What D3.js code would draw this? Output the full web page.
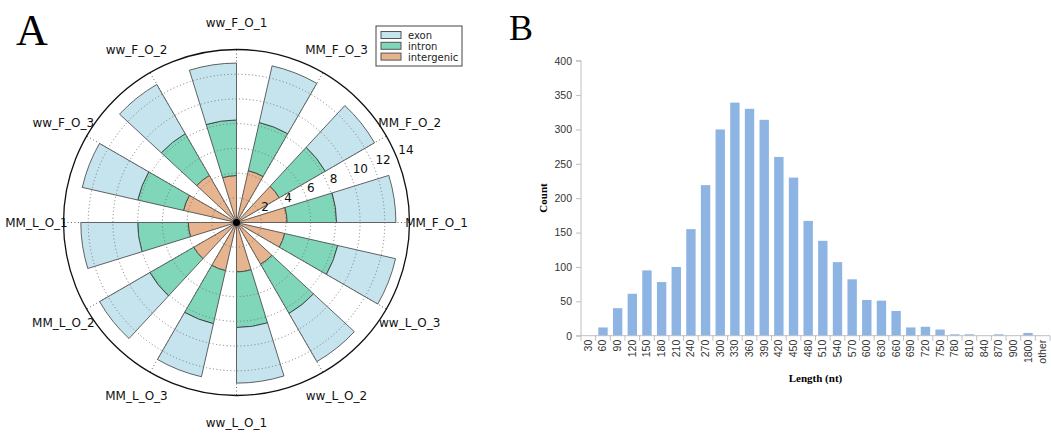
<!DOCTYPE html>
<html>
<head>
<meta charset="utf-8">
<script src="https://cdn.jsdelivr.net/npm/d3@7"></script>
<style>
  body { margin: 0; background: #fff; }
  svg { display: block; }
</style>
</head>
<body>
<div id="chart"></div>
<script>
// panel A data (radial stacked bars, angle order from 0 deg counter-clockwise)
var polarCategories = ["MM_F_O_1", "MM_F_O_2", "MM_F_O_3", "ww_F_O_1", "ww_F_O_2", "ww_F_O_3",
    "MM_L_O_1", "MM_L_O_2", "MM_L_O_3", "ww_L_O_1", "ww_L_O_2", "ww_L_O_3"];
var intergenic = [4.1, 4.0, 4.3, 3.8, 4.4, 4.4, 3.9, 4.0, 4.0, 4.0, 3.9, 4.0];
var intron = [4.0, 4.3, 4.0, 4.5, 3.9, 3.8, 4.1, 4.1, 4.4, 4.5, 4.6, 4.4];
var exon = [4.8, 4.6, 4.7, 4.6, 4.6, 4.6, 4.6, 4.7, 4.4, 4.5, 4.5, 4.8];
var radialTicks = [2, 4, 6, 8, 10, 12, 14];
var seriesNames = ["exon", "intron", "intergenic"];

// panel B data (length histogram)
var lengthCategories = ["30", "60", "90", "120", "150", "180", "210", "240", "270", "300", "330", "360",
    "390", "420", "450", "480", "510", "540", "570", "600", "630", "660", "690", "720", "750", "780",
    "810", "840", "870", "900", "1800", "other"];
var counts = [0, 12, 40, 61, 95, 78, 100, 155, 219, 300, 339, 330, 314, 260, 230, 167, 138, 107, 82,
    52, 51, 36, 12, 13, 9, 2, 2, 0, 2, 0, 4, 0];
var countTicks = [0, 50, 100, 150, 200, 250, 300, 350, 400];

var svgWidth = 1051;
var svgHeight = 434;

var svg = d3.select("#chart")
    .append("svg")
    .attr("width", svgWidth)
    .attr("height", svgHeight);

var colors = { exon: "#c6e4ee", intron: "#80d6b9", intergenic: "#e6b48e" };

// ---------- panel A ----------
var cx = 236.5, cy = 222.5, outerR = 173;
var barWidth = 0.3;

var rScale = d3.scaleLinear().domain([0, 14]).range([0, outerR]);
var thetaScale = d3.scaleLinear().domain([0, polarCategories.length]).range([0, 2 * Math.PI]);

var polar = svg.append("g")
    .attr("transform", `translate(${cx}, ${cy})`);

var rows = polarCategories.map(function(c, i) {
    return { cat: c, i: i, intergenic: intergenic[i], intron: intron[i], exon: exon[i] };
});
var stack = d3.stack().keys(["intergenic", "intron", "exon"]);
var stacked = stack(rows);

var arc = d3.arc();

stacked.forEach(function(layer) {
    polar.append("g")
        .selectAll("path")
        .data(layer)
        .enter()
        .append("path")
        .attr("d", function(d) {
            var t = thetaScale(d.data.i);
            return arc({
                innerRadius: rScale(d[0]),
                outerRadius: rScale(d[1]),
                startAngle: Math.PI / 2 - t - barWidth,
                endAngle: Math.PI / 2 - t
            });
        })
        .attr("fill", colors[layer.key])
        .attr("stroke", "#333")
        .attr("stroke-opacity", 0.75)
        .attr("stroke-width", 1);
});

// grid on top, dotted
polar.append("g")
    .selectAll("circle")
    .data(radialTicks.slice(0, -1))
    .enter()
    .append("circle")
    .attr("r", d => rScale(d))
    .attr("fill", "none")
    .attr("stroke", "#777")
    .attr("stroke-width", 1)
    .attr("stroke-dasharray", "1,2.5");

polar.append("g")
    .selectAll("line")
    .data(polarCategories)
    .enter()
    .append("line")
    .attr("x1", 0)
    .attr("y1", 0)
    .attr("x2", (d, i) => outerR * Math.cos(thetaScale(i)))
    .attr("y2", (d, i) => -outerR * Math.sin(thetaScale(i)))
    .attr("stroke", "#666")
    .attr("stroke-width", 1)
    .attr("stroke-dasharray", "1,2.5");

polar.append("circle")
    .attr("r", outerR)
    .attr("fill", "none")
    .attr("stroke", "#111")
    .attr("stroke-width", 1.3);

polar.append("circle")
    .attr("r", 3.5)
    .attr("fill", "#000");

var labelAngle = 22.5 * Math.PI / 180;
polar.append("g")
    .selectAll("text")
    .data(radialTicks)
    .enter()
    .append("text")
    .attr("x", d => rScale(d) * Math.cos(labelAngle) + 2)
    .attr("y", d => -rScale(d) * Math.sin(labelAngle) - 2)
    .style("font-family", "DejaVu Sans")
    .style("font-size", "12px")
    .attr("fill", "#111")
    .text(d => d);

polar.append("g")
    .selectAll("text")
    .data(polarCategories)
    .enter()
    .append("text")
    .attr("x", (d, i) => 200 * Math.cos(thetaScale(i)))
    .attr("y", (d, i) => -200 * Math.sin(thetaScale(i)))
    .attr("dy", "0.35em")
    .style("text-anchor", "middle")
    .style("font-family", "DejaVu Sans")
    .style("font-size", "12px")
    .attr("fill", "#111")
    .text(d => d);

// legend
var legend = svg.append("g").attr("transform", "translate(376, 26)");
legend.append("rect")
    .attr("width", 86)
    .attr("height", 40)
    .attr("fill", "#fff")
    .attr("stroke", "#444")
    .attr("stroke-width", 1);
var legendItems = legend.selectAll("g.item")
    .data(seriesNames)
    .enter()
    .append("g")
    .attr("class", "item")
    .attr("transform", (d, i) => `translate(5, ${5.5 + i * 10.8})`);
legendItems.append("rect")
    .attr("width", 20)
    .attr("height", 7)
    .attr("fill", d => colors[d])
    .attr("stroke", "#555");
legendItems.append("text")
    .attr("x", 27)
    .attr("y", 7.5)
    .style("font-family", "DejaVu Sans")
    .style("font-size", "10px")
    .attr("fill", "#222")
    .text(d => d);

svg.append("text")
    .attr("x", 16)
    .attr("y", 45)
    .style("font-family", "Liberation Serif")
    .style("font-size", "44px")
    .text("A");

// ---------- panel B ----------
var x0 = 581, x1 = 1050, yTop = 60.7, yBottom = 335.7;

var xBandScale = d3.scaleBand()
    .domain(lengthCategories)
    .range([x0, x1])
    .paddingInner(0.36)
    .paddingOuter(0.18);

var yLinearScale = d3.scaleLinear()
    .domain([0, 400])
    .range([yBottom, yTop]);

var chartB = svg.append("g");

chartB.selectAll("rect.bar")
    .data(counts)
    .enter()
    .append("rect")
    .attr("class", "bar")
    .attr("x", (d, i) => xBandScale(lengthCategories[i]))
    .attr("y", d => yLinearScale(d))
    .attr("width", xBandScale.bandwidth())
    .attr("height", d => yBottom - yLinearScale(d))
    .attr("fill", "#8db4e2");

var leftAxis = d3.axisLeft(yLinearScale)
    .tickValues(countTicks)
    .tickSize(5)
    .tickPadding(4);

var yAxisG = chartB.append("g")
    .attr("transform", `translate(${x0}, 0)`)
    .call(leftAxis);
yAxisG.select(".domain").attr("stroke", "#bfbfbf").attr("d", `M-5,${yTop}H0V${yBottom}H-5`);
yAxisG.selectAll(".tick line").attr("stroke", "#bfbfbf");
yAxisG.selectAll(".tick text")
    .style("font-family", "Liberation Sans")
    .style("font-size", "10.5px")
    .attr("fill", "#333");

var step = xBandScale.step();
chartB.append("line")
    .attr("x1", x0)
    .attr("x2", x1)
    .attr("y1", yBottom)
    .attr("y2", yBottom)
    .attr("stroke", "#bfbfbf");
chartB.selectAll("line.xtick")
    .data(d3.range(lengthCategories.length + 1))
    .enter()
    .append("line")
    .attr("class", "xtick")
    .attr("x1", i => x0 + i * step)
    .attr("x2", i => x0 + i * step)
    .attr("y1", yBottom)
    .attr("y2", yBottom + 5)
    .attr("stroke", "#bfbfbf");

chartB.selectAll("text.xlabel")
    .data(lengthCategories)
    .enter()
    .append("text")
    .attr("class", "xlabel")
    .attr("transform", d => `translate(${xBandScale(d) + xBandScale.bandwidth() / 2 + 3.5}, ${yBottom + 4}) rotate(-90)`)
    .style("text-anchor", "end")
    .style("font-family", "Liberation Sans")
    .style("font-size", "10.5px")
    .attr("fill", "#333")
    .text(d => d);

chartB.append("text")
    .attr("transform", "translate(547, 198) rotate(-90)")
    .style("text-anchor", "middle")
    .style("font-family", "Liberation Serif")
    .style("font-weight", "bold")
    .style("font-size", "11px")
    .text("Count");

chartB.append("text")
    .attr("x", 815.5)
    .attr("y", 382)
    .style("text-anchor", "middle")
    .style("font-family", "Liberation Serif")
    .style("font-weight", "bold")
    .style("font-size", "11px")
    .text("Length (nt)");

svg.append("text")
    .attr("x", 509)
    .attr("y", 39.5)
    .style("font-family", "Liberation Serif")
    .style("font-size", "36px")
    .text("B");
</script>
</body>
</html>
